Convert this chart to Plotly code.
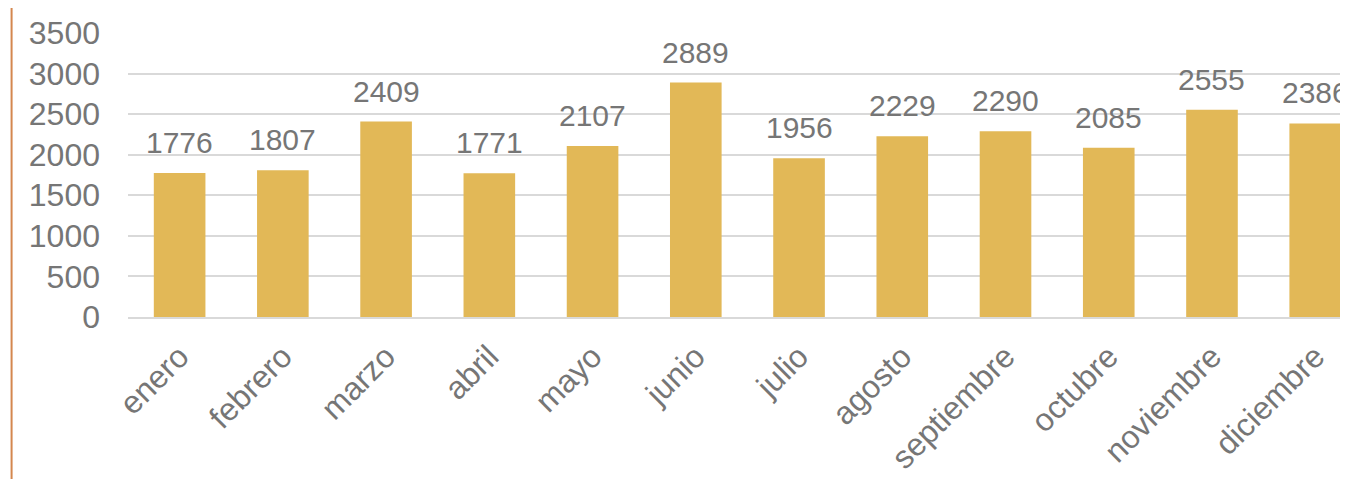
import plotly.graph_objects as go

# Data
MONTHS = ["enero", "febrero", "marzo", "abril", "mayo", "junio", "julio",
          "agosto", "septiembre", "octubre", "noviembre", "diciembre"]
VALUES = [1776, 1807, 2409, 1771, 2107, 2889, 1956, 2229, 2290, 2085, 2555, 2386]
Y_TICKS = [0, 500, 1000, 1500, 2000, 2500, 3000, 3500]

# Constants
BAR_COLOR = "#E2B857"
TEXT_COLOR = "#767676"
GRID_COLOR = "#D9D9D9"
EDGE_COLOR = "#D4874E"
FONT = "Liberation Sans, Arial, sans-serif"
LABEL_SIZE = 30
TICK_SIZE = 32
WIDTH = 1348
HEIGHT = 479

fig = go.Figure()

fig.add_trace(
    go.Bar(
        x=MONTHS,
        y=VALUES,
        marker=dict(color=BAR_COLOR, line=dict(width=0)),
        hoverinfo="x+y",
    )
)

# value labels above each bar
for m, v in zip(MONTHS, VALUES):
    fig.add_annotation(
        x=m, y=v, text=str(v), showarrow=False,
        yanchor="bottom", yshift=12,
        font=dict(family=FONT, size=LABEL_SIZE, color=TEXT_COLOR),
    )

# thin orange rule along the left edge of the picture
fig.add_shape(
    type="line", xref="paper", yref="paper",
    x0=-0.0948, x1=-0.0948, y0=-0.7, y1=1.2,
    line=dict(color=EDGE_COLOR, width=2),
)

# page body adds 8px, so margins are set 8px short
fig.update_layout(
    width=WIDTH,
    height=HEIGHT,
    margin=dict(l=120, r=0, t=25, b=170, autoexpand=False),
    plot_bgcolor="white",
    paper_bgcolor="white",
    showlegend=False,
    bargap=0.5,
    font=dict(family=FONT, size=LABEL_SIZE, color=TEXT_COLOR),
    xaxis=dict(
        range=[-0.5, 11.395],
        tickangle=-45,
        automargin=False,
        showgrid=False,
        showline=True,
        linecolor=GRID_COLOR,
        linewidth=2,
        ticks="",
        ticklabelstandoff=6,
        tickfont=dict(size=TICK_SIZE, color=TEXT_COLOR),
    ),
    yaxis=dict(
        range=[0, 3500],
        tickvals=Y_TICKS,
        automargin=False,
        showgrid=True,
        gridcolor=GRID_COLOR,
        gridwidth=1.5,
        zeroline=False,
        showline=False,
        ticks="",
        ticklabelstandoff=27,
        tickfont=dict(size=TICK_SIZE, color=TEXT_COLOR),
    ),
)

fig.write_html("out.html")
